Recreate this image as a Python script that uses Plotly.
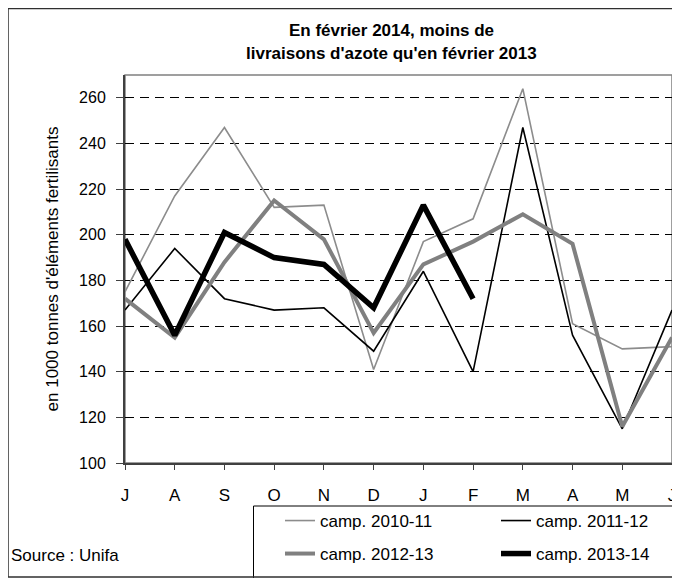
import plotly.graph_objects as go

months = ["J", "A", "S", "O", "N", "D", "J", "F", "M", "A", "M", "J"]
camp_2010_11 = [175, 217, 247, 212, 213, 141, 197, 207, 264, 161, 150, 151]
camp_2011_12 = [167, 194, 172, 167, 168, 149, 184, 140, 247, 156, 115, 167]
camp_2012_13 = [172, 155, 188, 215, 198, 157, 187, 197, 209, 196, 116, 155]
camp_2013_14 = [198, 156, 201, 190, 187, 168, 213, 172]
y_ticks = [100, 120, 140, 160, 180, 200, 220, 240, 260]

FONT = "Liberation Sans, Arial, sans-serif"
W, H = 672, 570
L, R, T, B = 117, 8, 67, 115
PW, PH = W - L - R, H - T - B
x_pos = list(range(len(months)))


def px_x(x):
    return (x - L) / PW


def px_y(y):
    return (H - B - y) / PH


fig = go.Figure()
series = [
    ("camp. 2010-11", camp_2010_11, "#8c8c8c", 1.6, "legend"),
    ("camp. 2011-12", camp_2011_12, "black", 1.6, "legend"),
    ("camp. 2012-13", camp_2012_13, "#808080", 4, "legend2"),
    ("camp. 2013-14", camp_2013_14, "black", 5.5, "legend2"),
]
for name, vals, color, w, leg in series:
    fig.add_trace(go.Scatter(
        x=x_pos[:len(vals)], y=vals, name=name, mode="lines", legend=leg,
        line=dict(color=color, width=w)))

leg_common = dict(
    orientation="h", xref="container", yref="container",
    x=272 / W, xanchor="left", yanchor="middle",
    entrywidth=171, entrywidthmode="pixels",
    bgcolor="rgba(0,0,0,0)", borderwidth=0,
    font=dict(family=FONT, size=17, color="black"))

fig.update_layout(
    width=W, height=H,
    margin=dict(l=L, r=R, t=T, b=B),
    paper_bgcolor="white", plot_bgcolor="white",
    font=dict(family=FONT, size=16, color="black"),
    showlegend=True,
    legend=dict(leg_common, y=1 - 513 / H),
    legend2=dict(leg_common, y=1 - 546 / H),
    xaxis=dict(
        range=[0, 11], tickmode="array", tickvals=x_pos, ticktext=months,
        showgrid=False, zeroline=False, showline=True, linecolor="#404040",
        linewidth=2, ticks="outside", ticklen=5, tickcolor="#404040",
        ticklabelstandoff=11, tickfont=dict(size=17), automargin=False),
    yaxis=dict(
        range=[100, 270], tickmode="array", tickvals=y_ticks,
        showgrid=True, gridcolor="black", gridwidth=1, griddash="9px,6px",
        zeroline=False, showline=True, linecolor="#404040", linewidth=2,
        ticks="outside", ticklen=7, tickcolor="#404040",
        ticklabelstandoff=7, tickfont=dict(size=16), automargin=False,
        title=dict(text="en 1000 tonnes d'éléments fertilisants",
                   font=dict(size=17), standoff=16)),
    annotations=[
        dict(text="<b>En février 2014, moins de</b>", xref="paper", yref="paper",
             x=px_x(383), y=px_y(23), yanchor="middle", showarrow=False,
             font=dict(size=17, family=FONT)),
        dict(text="<b>livraisons d'azote qu'en février 2013</b>", xref="paper",
             yref="paper", x=px_x(383), y=px_y(46), yanchor="middle",
             showarrow=False, font=dict(size=17, family=FONT)),
        dict(text="Source : Unifa", xref="paper", yref="paper",
             x=px_x(1), xanchor="left", y=px_y(547), yanchor="middle",
             showarrow=False, font=dict(size=17, family=FONT)),
    ],
    shapes=[
        # plot area frame
        dict(type="rect", xref="paper", yref="paper", x0=0, x1=1, y0=0, y1=1,
             line=dict(color="#808080", width=1.5), layer="below"),
        # legend box
        dict(type="rect", xref="paper", yref="paper",
             x0=px_x(245.5), x1=px_x(W + 2), y0=px_y(H + 2), y1=px_y(498),
             line=dict(color="black", width=1)),
        # chart frame
        dict(type="rect", xref="paper", yref="paper",
             x0=px_x(0), x1=px_x(W - 1), y0=px_y(H - 1), y1=px_y(0.5),
             line=dict(color="#303030", width=1.5)),
    ],
)

fig.write_html("out.html")
